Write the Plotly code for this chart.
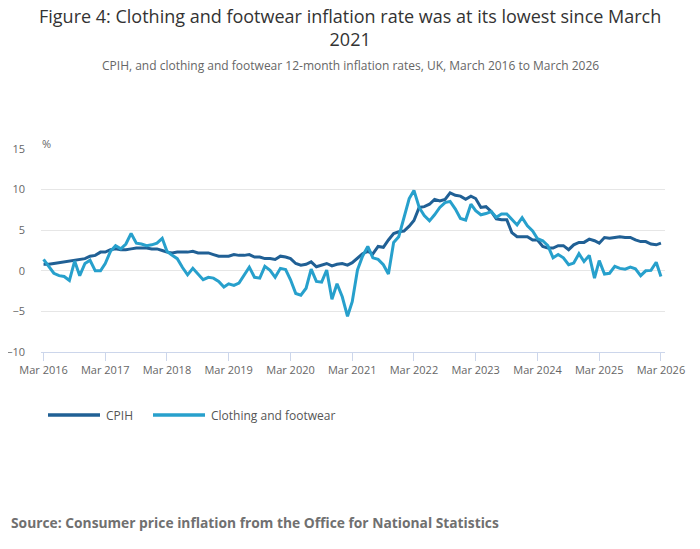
import plotly.graph_objects as go
import pandas as pd

months = pd.date_range("2016-03-01", "2026-03-01", freq="MS").strftime("%Y-%m-%d").tolist()

cpih = [
    0.8, 0.8, 0.9, 1.0, 1.1, 1.2, 1.3, 1.4, 1.5, 1.8,
    1.9, 2.3, 2.3, 2.6, 2.7, 2.6, 2.6, 2.7, 2.8, 2.8, 2.8, 2.7,
    2.7, 2.5, 2.3, 2.2, 2.3, 2.3, 2.3, 2.4, 2.2, 2.2, 2.2, 2.0,
    1.8, 1.8, 1.8, 2.0, 1.9, 1.9, 2.0, 1.7, 1.7, 1.5, 1.5, 1.4,
    1.8, 1.7, 1.5, 0.9, 0.7, 0.8, 1.1, 0.5, 0.7, 0.9, 0.6, 0.8,
    0.9, 0.7, 1.0, 1.6, 2.1, 2.4, 2.1, 3.0, 2.9, 3.8, 4.6, 4.8,
    4.9, 5.5, 6.2, 7.8, 7.9, 8.2, 8.8, 8.6, 8.8, 9.6, 9.3, 9.2,
    8.8, 9.2, 8.9, 7.8, 7.9, 7.3, 6.4, 6.3, 6.3, 4.7, 4.2, 4.2,
    4.2, 3.8, 3.8, 3.0, 2.8, 2.8, 3.1, 3.1, 2.6, 3.2, 3.5, 3.5,
    3.9, 3.7, 3.4, 4.1, 4.0, 4.1, 4.2, 4.1, 4.1, 3.8, 3.6, 3.6,
    3.3, 3.2, 3.4,
]

clothing = [
    1.4, 0.5, -0.3, -0.6, -0.7, -1.2, 1.2, -0.6, 0.9, 1.3,
    0.0, 0.0, 0.9, 2.4, 3.1, 2.7, 3.3, 4.6, 3.4, 3.3, 3.1, 3.2,
    3.4, 4.0, 2.4, 1.9, 1.5, 0.4, -0.5, 0.3, -0.4, -1.1, -0.8, -0.9,
    -1.3, -2.0, -1.6, -1.8, -1.5, -0.5, 0.45, -0.8, -0.9, 0.55, 0.05, -0.8,
    0.3, 0.15, -1.1, -2.8, -3.0, -2.15, 0.2, -1.3, -1.4, 0.1, -3.5, -1.6,
    -3.2, -5.6, -3.8, 0.1, 1.8, 3.0, 1.6, 1.4, 0.75, -0.4, 3.5, 4.2,
    6.4, 8.9, 9.9, 7.8, 6.8, 6.15, 6.9, 7.8, 8.4, 8.55, 7.6, 6.45,
    6.25, 8.2, 7.4, 6.9, 7.05, 7.3, 6.6, 7.0, 7.0, 6.35, 5.65, 6.55,
    5.55, 4.9, 3.95, 3.7, 3.1, 1.6, 2.0, 1.6, 0.75, 0.95, 2.1, 1.15,
    1.9, -0.9, 1.25, -0.4, -0.3, 0.55, 0.3, 0.2, 0.45, 0.25, -0.6, 0.0,
    0.05, 1.05, -0.7,
]

series_names = ["CPIH", "Clothing and footwear"]
series_colors = ["#206095", "#27a0cc"]

tick_vals = [f"{y}-03-01" for y in range(2016, 2027)]
tick_text = [f"Mar {y}" for y in range(2016, 2027)]
y_ticks = [-10, -5, 0, 5, 10, 15]

FONT = "Open Sans"

# page offset (browser body margin) compensation
OFF = 8
W, H = 700, 549
L, R, T, B = 41 - OFF, 35 + OFF, 149 - OFF, 197 + OFF
pw, ph = W - L - R, H - T - B


def px(x):
    return (x - OFF - L) / pw


def py(y):
    return (H - B - (y - OFF)) / ph


fig = go.Figure()
for name, vals, col in zip(series_names, [cpih, clothing], series_colors):
    fig.add_trace(go.Scatter(x=months, y=vals, mode="lines", name=name,
                             line=dict(color=col, width=3), showlegend=False))

anns = [
    dict(text="Figure 4: Clothing and footwear inflation rate was at its lowest since March<br>2021",
         x=px(350), y=py(28), xref="paper", yref="paper", xanchor="center", yanchor="middle",
         showarrow=False, align="center",
         font=dict(size=18, color="#333333", family=FONT)),
    dict(text="CPIH, and clothing and footwear 12-month inflation rates, UK, March 2016 to March 2026",
         x=px(350), y=py(65), xref="paper", yref="paper", xanchor="center", yanchor="middle",
         showarrow=False, font=dict(size=12, color="#666666", family=FONT)),
    dict(text="%", x=px(40), y=py(143), xref="paper", yref="paper", xanchor="left", yanchor="middle",
         showarrow=False, font=dict(size=11, color="#666666", family=FONT)),
    dict(text="<b>Source: Consumer price inflation from the Office for National Statistics</b>",
         x=px(9), y=py(522), xref="paper", yref="paper", xanchor="left", yanchor="middle",
         showarrow=False, font=dict(size=13.8, color="#707070", family=FONT)),
]

# manual legend
shapes = []
leg_y = 415
leg_items = [(48, 100, 104), (153, 205, 209)]
for (x0, x1, tx), name, col in zip(leg_items, series_names, series_colors):
    shapes.append(dict(type="line", xref="paper", yref="paper",
                       x0=px(x0), x1=px(x1), y0=py(leg_y), y1=py(leg_y),
                       line=dict(color=col, width=3.5)))
    anns.append(dict(text=name, x=px(tx), y=py(leg_y), xref="paper", yref="paper",
                     xanchor="left", yanchor="middle", showarrow=False,
                     font=dict(size=12, color="#555555", family=FONT)))

fig.update_layout(
    width=W, height=H,
    margin=dict(l=L, r=R, t=T, b=B, autoexpand=False),
    paper_bgcolor="white", plot_bgcolor="white",
    font=dict(family=FONT, color="#666666", size=11),
    showlegend=False,
    xaxis=dict(
        type="date",
        range=["2016-02-15", "2026-03-25"],
        tickvals=tick_vals, ticktext=tick_text,
        showgrid=False, zeroline=False, automargin=False,
        showline=True, linecolor="#ccd6eb", linewidth=1,
        ticks="outside", ticklen=8, tickcolor="#ccd6eb",
        tickfont=dict(size=11, color="#666666"),
    ),
    yaxis=dict(
        range=[-10, 15], tickvals=y_ticks,
        showgrid=True, gridcolor="#e6e6e6", gridwidth=1,
        zeroline=False, showline=False, automargin=False,
        ticks="", ticklabelstandoff=15,
        tickfont=dict(size=11, color="#666666"),
    ),
    annotations=anns,
    shapes=shapes,
)

fig.write_html("out.html")
